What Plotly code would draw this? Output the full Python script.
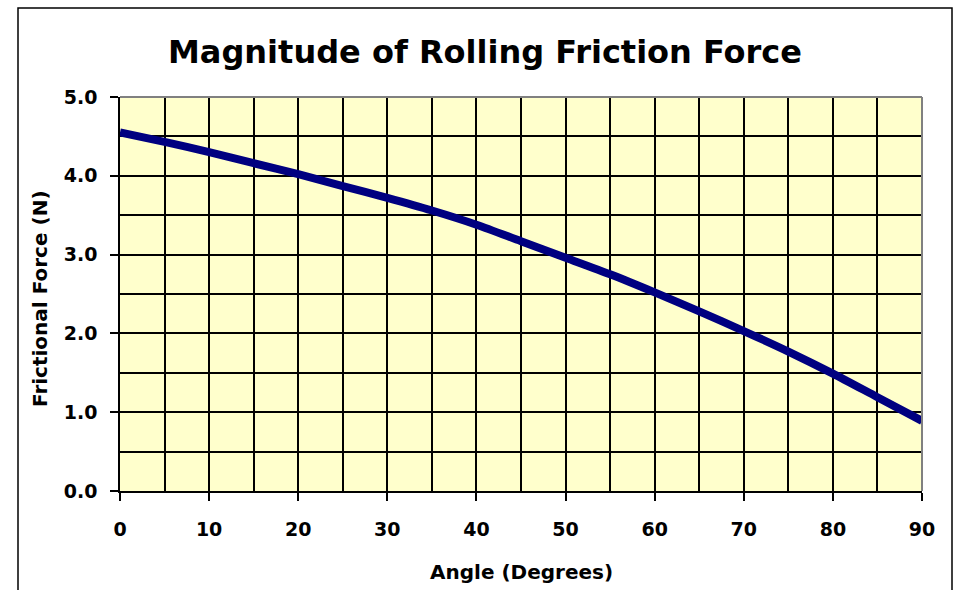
import plotly.graph_objects as go

angles = [0, 5, 10, 15, 20, 25, 30, 35, 40, 45, 50, 55, 60, 65, 70, 75, 80, 85, 90]
force = [4.55, 4.43, 4.30, 4.16, 4.02, 3.87, 3.72, 3.56, 3.38, 3.17, 2.96, 2.75, 2.52, 2.28, 2.03, 1.77, 1.49, 1.19, 0.89]

title_text = "Magnitude of Rolling Friction Force"
x_title = "Angle (Degrees)"
y_title = "Frictional Force (N)"

FONT = "DejaVu Sans"
W, H = 954, 590
L, R, T, B = 120, 32, 97, 99
pw, ph = W - L - R, H - T - B

def px_to_paper_x(px):
    return (px - L) / pw

def py_to_paper_y(py):
    return (H - B - py) / ph

fig = go.Figure()
fig.add_trace(go.Scatter(
    x=angles, y=force, mode="lines",
    line=dict(color="#000080", width=8, shape="spline", smoothing=0.8),
    showlegend=False, hoverinfo="skip",
))

axis_font = dict(family=FONT, size=19, color="black", weight="bold")

fig.update_layout(
    width=W, height=H,
    margin=dict(l=L, r=R, t=T, b=B, pad=0),
    paper_bgcolor="white",
    plot_bgcolor="#FFFFCC",
    title=dict(
        text=title_text,
        font=dict(family=FONT, size=32, color="black", weight="bold"),
        x=485 / W, xanchor="center", xref="container",
        y=1 - 52 / H, yanchor="middle", yref="container",
    ),
    xaxis=dict(
        range=[0, 90], dtick=10, tick0=0,
        showgrid=True, gridcolor="black", gridwidth=1.5,
        minor=dict(dtick=5, showgrid=True, gridcolor="black", gridwidth=1.5, ticklen=0),
        ticks="outside", ticklen=8, tickcolor="black", tickwidth=1.5,
        showline=True, linecolor="black", linewidth=1.5,
        zeroline=False, tickfont=axis_font, ticklabelstandoff=12,
        fixedrange=True,
    ),
    yaxis=dict(
        range=[0, 5], dtick=1, tick0=0, tickformat=".1f",
        showgrid=True, gridcolor="black", gridwidth=1.5,
        minor=dict(dtick=0.5, showgrid=True, gridcolor="black", gridwidth=1.5, ticklen=0),
        ticks="outside", ticklen=8, tickcolor="black", tickwidth=1.5,
        showline=True, linecolor="black", linewidth=1.5,
        zeroline=False, tickfont=axis_font, ticklabelstandoff=9,
        fixedrange=True,
    ),
    shapes=[
        dict(type="line", xref="paper", yref="paper", x0=0, x1=1, y0=1, y1=1,
             line=dict(color="#808080", width=2), layer="above"),
        dict(type="line", xref="paper", yref="paper", x0=1, x1=1, y0=0, y1=1,
             line=dict(color="#808080", width=2), layer="above"),
        dict(type="rect", xref="paper", yref="paper",
             x0=px_to_paper_x(18), x1=px_to_paper_x(952),
             y0=py_to_paper_y(610), y1=py_to_paper_y(8),
             line=dict(color="black", width=1.5), fillcolor="rgba(0,0,0,0)", layer="below"),
    ],
    annotations=[
        dict(text=x_title, xref="paper", yref="paper",
             x=px_to_paper_x(521), y=py_to_paper_y(572), xanchor="center", yanchor="middle",
             showarrow=False, font=dict(family=FONT, size=20, color="black", weight="bold")),
        dict(text=y_title, xref="paper", yref="paper", textangle=-90,
             x=px_to_paper_x(40), y=py_to_paper_y(299), xanchor="center", yanchor="middle",
             showarrow=False, font=dict(family=FONT, size=20, color="black", weight="bold")),
    ],
)

fig.write_html("out.html")
